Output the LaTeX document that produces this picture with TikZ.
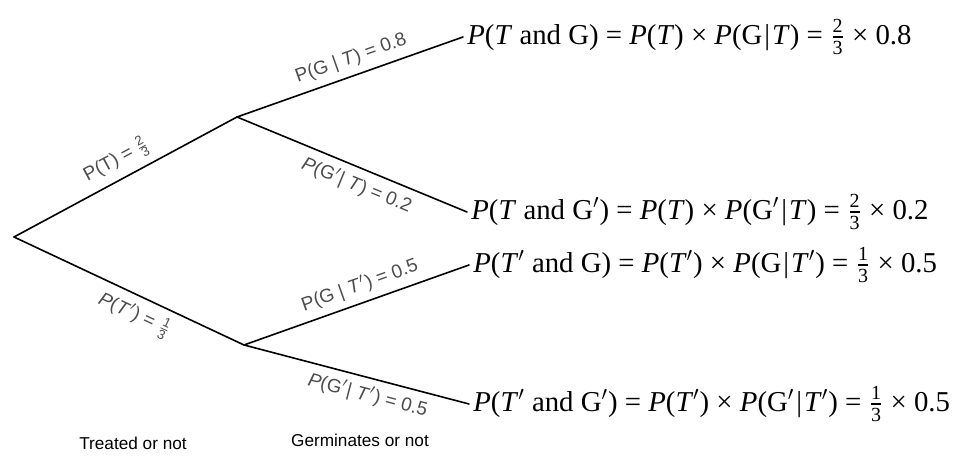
\documentclass[tikz,border=0pt]{standalone}
\usepackage{amsmath}
\usepackage{fontspec}
\setmainfont{Liberation Serif}
\newfontfamily\labfont{Liberation Sans}
\tikzset{
    leaf/.style={
        anchor=west, inner sep=2pt,
        font=\fontsize{14.4}{17}\selectfont
    },
    plab/.style={
        sloped, inner sep=3.5pt, text=black!70,
        font=\labfont\fontsize{9.5}{11}\selectfont
    },
    stage/.style={
        inner sep=1pt,
        font=\labfont\fontsize{8.6}{10}\selectfont
    }
}

\begin{document}
\begin{tikzpicture}[x=0.5pt,y=-0.5pt, line cap=round, line join=round]
\useasboundingbox (0,0) rectangle (953,458);

\def\fr#1#2{$\frac{\text{#1}}{\text{#2}}$}
\def\pr{$'$}
\def\gv{\kern1pt|\kern1pt}

\coordinate (root) at (14,237);
\coordinate (nT) at (237,117);
\coordinate (nTp) at (244,345);

% outcomes
\node[leaf] (TG) at (463,37)
  {\textit{P}(\textit{T} and G) = \textit{P}(\textit{T}) × \textit{P}(G\gv\textit{T}) = \fr{2}{3} × 0.8};
\node[leaf] (TGp) at (467,212)
  {\textit{P}(\textit{T} and G\pr) = \textit{P}(\textit{T}) × \textit{P}(G\pr\gv\textit{T}) = \fr{2}{3} × 0.2};
\node[leaf] (TpG) at (469,265)
  {\textit{P}(\textit{T}\pr{} and G) = \textit{P}(\textit{T}\pr) × \textit{P}(G\gv\textit{T}\pr) = \fr{1}{3} × 0.5};
\node[leaf] (TpGp) at (469,404)
  {\textit{P}(\textit{T}\pr{} and G\pr) = \textit{P}(\textit{T}\pr) × \textit{P}(G\pr\gv\textit{T}\pr) = \fr{1}{3} × 0.5};

% first stage
\draw[line width=0.8pt] (root) -- node[plab, above, pos=0.5] (lT) {P(T) = \fr{2}{3}} (nT);
\draw[line width=0.8pt] (root) -- node[plab, below, pos=0.56] (lTp) {\textit{P}(\textit{T}\pr) = \fr{1}{3}} (nTp);

% second stage
\draw[line width=0.8pt] (nT) -- node[plab, above, pos=0.53] (lGT) {P(G | \textit{T}) = 0.8} (TG.west);
\draw[line width=0.8pt] (nT) -- node[plab, below, pos=0.55] (lGpT) {\textit{P}(G\pr| \textit{T}) = 0.2} (TGp.west);
\draw[line width=0.8pt] (nTp) -- node[plab, above, pos=0.54] (lGTp) {P(G | \textit{T}\pr) = 0.5} (TpG.west);
\draw[line width=0.8pt] (nTp) -- node[plab, below, pos=0.57] (lGpTp) {\textit{P}(G\pr| \textit{T}\pr) = 0.5} (TpGp.west);

\node[stage] (treated) at (133,443) {Treated or not};
\node[stage] (germ) at (360,440) {Germinates or not};

\end{tikzpicture}
\end{document}
